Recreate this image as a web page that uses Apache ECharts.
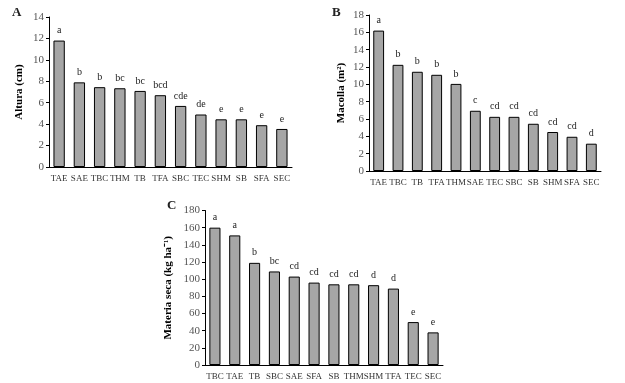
<!DOCTYPE html>
<html>
<head>
<meta charset="utf-8">
<script src="https://cdn.jsdelivr.net/npm/echarts@6/dist/echarts.min.js"></script>
<style>
  html, body { margin: 0; padding: 0; background: #fff; }
  #chart { width: 625px; height: 383px; }
</style>
</head>
<body>
<div id="chart"></div>
<script>
// A - Altura (cm)
var catsA = ['TAE', 'SAE', 'TBC', 'THM', 'TB', 'TFA', 'SBC', 'TEC', 'SHM', 'SB', 'SFA', 'SEC'];
var valsA = [11.8, 7.9, 7.45, 7.35, 7.1, 6.7, 5.7, 4.9, 4.45, 4.45, 3.9, 3.55];
var letrasA = ['a', 'b', 'b', 'bc', 'bc', 'bcd', 'cde', 'de', 'e', 'e', 'e', 'e'];

// B - Macolla (m2)
var catsB = ['TAE', 'TBC', 'TB', 'TFA', 'THM', 'SAE', 'TEC', 'SBC', 'SB', 'SHM', 'SFA', 'SEC'];
var valsB = [16.2, 12.25, 11.45, 11.1, 10.05, 6.95, 6.25, 6.25, 5.45, 4.5, 3.95, 3.15];
var letrasB = ['a', 'b', 'b', 'b', 'b', 'c', 'cd', 'cd', 'cd', 'cd', 'cd', 'd'];

// C - Materia seca (kg ha-1)
var catsC = ['TBC', 'TAE', 'TB', 'SBC', 'SAE', 'SFA', 'SB', 'THM', 'SHM', 'TFA', 'TEC', 'SEC'];
var valsC = [160, 151, 119, 109, 103, 96, 94, 94, 93, 89, 50, 38];
var letrasC = ['a', 'a', 'b', 'bc', 'cd', 'cd', 'cd', 'cd', 'd', 'd', 'e', 'e'];

var fuente = 'Liberation Serif';

function ejeX(idx, cats) {
	return {
		type: 'category',
		gridIndex: idx,
		data: cats,
		axisLine: { lineStyle: { color: '#000', width: 1 } },
		axisTick: { show: false },
		axisLabel: { fontFamily: fuente, fontSize: 9, color: '#333', interval: 0, margin: 7 }
	};
}

function ejeY(idx, max, interval, nombre, gap) {
	return {
		type: 'value',
		gridIndex: idx,
		min: 0,
		max: max,
		interval: interval,
		name: nombre,
		nameLocation: 'middle',
		nameRotate: 90,
		nameGap: gap,
		nameTextStyle: { fontFamily: fuente, fontSize: 11, fontWeight: 'bold', color: '#000' },
		axisLine: { show: true, lineStyle: { color: '#000', width: 1 } },
		axisTick: { show: true, length: 3, lineStyle: { color: '#000' } },
		axisLabel: { fontFamily: fuente, fontSize: 11, color: '#555', margin: 5 },
		splitLine: { show: false }
	};
}

function serie(idx, vals, letras) {
	return {
		type: 'bar',
		xAxisIndex: idx,
		yAxisIndex: idx,
		data: vals,
		barWidth: '56%',
		itemStyle: { color: '#a6a6a6', borderColor: '#000', borderWidth: 1 },
		label: {
			show: true,
			position: 'top',
			distance: 5,
			fontFamily: fuente,
			fontSize: 10,
			color: '#222',
			formatter: function(p) { return letras[p.dataIndex]; }
		}
	};
}

var chart = echarts.init(document.getElementById('chart'));
var option = {
	backgroundColor: '#fff',
	animation: false,
	grid: [
		{ left: 49, top: 17, width: 243, height: 150 },
		{ left: 369, top: 15, width: 232, height: 156 },
		{ left: 205, top: 210.5, width: 238, height: 154.5 }
	],
	xAxis: [ejeX(0, catsA), ejeX(1, catsB), ejeX(2, catsC)],
	yAxis: [
		ejeY(0, 14, 2, 'Altura (cm)', 24),
		ejeY(1, 18, 2, 'Macolla (m²)', 22),
		ejeY(2, 180, 20, 'Materia seca (kg ha⁻¹)', 31)
	],
	series: [serie(0, valsA, letrasA), serie(1, valsB, letrasB), serie(2, valsC, letrasC)],
	graphic: [
		{ type: 'text', left: 12, top: 6, style: { text: 'A', font: 'bold 13px "Liberation Serif"', fill: '#222' } },
		{ type: 'text', left: 332, top: 6, style: { text: 'B', font: 'bold 13px "Liberation Serif"', fill: '#222' } },
		{ type: 'text', left: 167, top: 199, style: { text: 'C', font: 'bold 13px "Liberation Serif"', fill: '#222' } }
	]
};
chart.setOption(option);
</script>
</body>
</html>
